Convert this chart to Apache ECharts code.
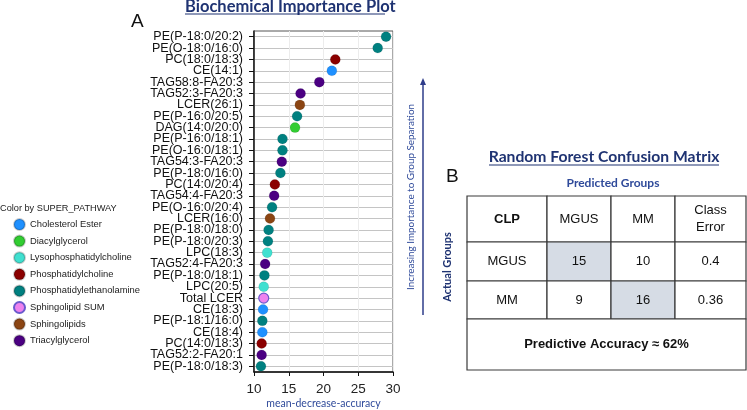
<!DOCTYPE html>
<html>
<head>
<meta charset="utf-8">
<script src="https://cdn.jsdelivr.net/npm/echarts@6/dist/echarts.min.js"></script>
<style>
  html, body { margin: 0; padding: 0; background: #fff; }
  #main { width: 747px; height: 410px; }
</style>
</head>
<body>
<div id="main"></div>
<script>
// variable importance, top to bottom
const lipids = [
  'PE(P-18:0/20:2)', 'PE(O-18:0/16:0)', 'PC(18:0/18:3)', 'CE(14:1)', 'TAG58:8-FA20:3',
  'TAG52:3-FA20:3', 'LCER(26:1)', 'PE(P-16:0/20:5)', 'DAG(14:0/20:0)', 'PE(P-16:0/18:1)',
  'PE(O-16:0/18:1)', 'TAG54:3-FA20:3', 'PE(P-18:0/16:0)', 'PC(14:0/20:4)', 'TAG54:4-FA20:3',
  'PE(O-16:0/20:4)', 'LCER(16:0)', 'PE(P-18:0/18:0)', 'PE(P-18:0/20:3)', 'LPC(18:3)',
  'TAG52:4-FA20:3', 'PE(P-18:0/18:1)', 'LPC(20:5)', 'Total LCER', 'CE(18:3)',
  'PE(P-18:1/16:0)', 'CE(18:4)', 'PC(14:0/18:3)', 'TAG52:2-FA20:1', 'PE(P-18:0/18:3)'
];
const meanDecreaseAccuracy = [
  29.0, 27.8, 21.7, 21.2, 19.4,
  16.7, 16.6, 16.2, 15.9, 14.1,
  14.1, 14.0, 13.8, 13.0, 12.9,
  12.6, 12.3, 12.1, 12.0, 11.9,
  11.6, 11.5, 11.4, 11.4, 11.3,
  11.2, 11.2, 11.1, 11.1, 11.0
];
const lipidPathway = [
  'Phosphatidylethanolamine', 'Phosphatidylethanolamine', 'Phosphatidylcholine', 'Cholesterol Ester', 'Triacylglycerol',
  'Triacylglycerol', 'Sphingolipids', 'Phosphatidylethanolamine', 'Diacylglycerol', 'Phosphatidylethanolamine',
  'Phosphatidylethanolamine', 'Triacylglycerol', 'Phosphatidylethanolamine', 'Phosphatidylcholine', 'Triacylglycerol',
  'Phosphatidylethanolamine', 'Sphingolipids', 'Phosphatidylethanolamine', 'Phosphatidylethanolamine', 'Lysophosphatidylcholine',
  'Triacylglycerol', 'Phosphatidylethanolamine', 'Lysophosphatidylcholine', 'Sphingolipid SUM', 'Cholesterol Ester',
  'Phosphatidylethanolamine', 'Cholesterol Ester', 'Phosphatidylcholine', 'Triacylglycerol', 'Phosphatidylethanolamine'
];
const pathways = [
  'Cholesterol Ester', 'Diacylglycerol', 'Lysophosphatidylcholine', 'Phosphatidylcholine',
  'Phosphatidylethanolamine', 'Sphingolipid SUM', 'Sphingolipids', 'Triacylglycerol'
];
const pathwayColors = ['#1e90ff', '#32cd32', '#40e0d0', '#8b0000', '#008080', '#ee82ee', '#8b4513', '#4b0082'];

// confusion matrix
const cmCorner = 'CLP';
const predictedGroups = ['MGUS', 'MM'];
const actualGroups = ['MGUS', 'MM'];
const cmCounts = [[15, 10], [9, 16]];
const classError = [0.4, 0.36];
const accuracyPct = 62;

const NAVY = '#1f3372';
const SANS = 'Liberation Sans, Arial, sans-serif';
const chart = echarts.init(document.getElementById('main'));

const dotSeries = pathways.map((p, k) => ({
  name: p,
  type: 'scatter',
  xAxisIndex: 0,
  yAxisIndex: 0,
  symbolSize: 10,
  itemStyle: {
    color: pathwayColors[k],
    borderColor: p === 'Sphingolipid SUM' ? '#6a5acd' : 'rgba(0,0,0,0.2)',
    borderWidth: p === 'Sphingolipid SUM' ? 1.2 : 0.5,
    opacity: 1
  },
  data: lipids
    .map((l, i) => (lipidPathway[i] === p ? [meanDecreaseAccuracy[i], l] : null))
    .filter(d => d)
}));

// table cells: col, row, colspan, text, bold, shaded
const cells = [];
cells.push([0, 0, 1, cmCorner, true, false]);
predictedGroups.forEach((g, j) => cells.push([j + 1, 0, 1, g, false, false]));
cells.push([3, 0, 1, 'Class\nError', false, false]);
actualGroups.forEach((g, i) => {
  cells.push([0, i + 1, 1, g, false, false]);
  cmCounts[i].forEach((v, j) => cells.push([j + 1, i + 1, 1, String(v), false, i === j]));
  cells.push([3, i + 1, 1, String(classError[i]), false, false]);
});
cells.push([0, 3, 4, 'Predictive Accuracy \u2248 ' + accuracyPct + '%', true, false]);

const colW = [80, 64, 64, 71];
const rowH = [46, 39, 38, 51];
const sum = a => a.reduce((s, v) => s + v, 0);

function renderCell(params, api) {
  const cs = params.coordSys;
  const c = cells[params.dataIndex];
  const kx = cs.width / sum(colW), ky = cs.height / sum(rowH);
  const x = cs.x + sum(colW.slice(0, c[0])) * kx;
  const y = cs.y + sum(rowH.slice(0, c[1])) * ky;
  const w = sum(colW.slice(c[0], c[0] + c[2])) * kx;
  const h = rowH[c[1]] * ky;
  return {
    type: 'group',
    children: [
      { type: 'rect', shape: { x, y, width: w, height: h },
        style: { fill: c[5] ? '#d6dce5' : '#fff', stroke: '#3a3a3a', lineWidth: 1.2 } },
      { type: 'text',
        style: { text: c[3], x: x + w / 2, y: y + h / 2, align: 'center', verticalAlign: 'middle',
          fontFamily: SANS, fontSize: 13, fontWeight: c[4] ? 'bold' : 'normal',
          lineHeight: 17, fill: '#111' } }
    ]
  };
}

const option = {
  animation: false,
  legend: {
    orient: 'vertical',
    left: 8,
    top: 213,
    itemWidth: 11,
    itemHeight: 11,
    itemGap: 3.6,
    icon: 'circle',
    data: pathways,
    textStyle: { fontFamily: SANS, fontSize: 9.4, color: '#222', lineHeight: 11 }
  },
  grid: [
    { left: 254, right: 354, top: 31, bottom: 38, show: true, borderColor: '#555', borderWidth: 1,
      containLabel: false, outerBoundsMode: 'none' },
    { left: 467, top: 196, width: 279, height: 174, containLabel: false, outerBoundsMode: 'none' }
  ],
  xAxis: [
    {
      type: 'value', gridIndex: 0, min: 10, max: 30, interval: 5,
      name: 'mean-decrease-accuracy', nameLocation: 'middle', nameGap: 26, nameMoveOverlap: false,
      nameTextStyle: { fontFamily: 'Lato', fontSize: 10.5, color: '#2f4a9a' },
      axisLine: { show: true, lineStyle: { color: '#111', width: 1.5 } },
      axisTick: { show: true, length: 4, lineStyle: { color: '#111' } },
      axisLabel: { fontFamily: SANS, fontSize: 13.5, color: '#222', margin: 10 },
      splitLine: { show: true, lineStyle: { color: '#ececec' } }
    },
    { type: 'value', gridIndex: 1, min: 0, max: 1, show: false }
  ],
  yAxis: [
    {
      type: 'category', gridIndex: 0, data: lipids, inverse: true,
      axisLine: { show: true, lineStyle: { color: '#111', width: 1.5 } },
      axisTick: { show: true, alignWithLabel: true, length: 5, lineStyle: { color: '#111' } },
      axisLabel: { interval: 0, fontFamily: SANS, fontSize: 12.5, color: '#111', margin: 11 },
      splitLine: { show: true, alignWithLabel: true, interval: 0, lineStyle: { color: '#c4c4c4' } }
    },
    { type: 'value', gridIndex: 1, min: 0, max: 1, show: false }
  ],
  graphic: [
    { type: 'text', left: 185, top: -2,
      style: { text: 'Biochemical Importance Plot', fontFamily: 'Lato', fontWeight: 'bold', fontSize: 16.5, fill: NAVY } },
    { type: 'line', shape: { x1: 185, y1: 14, x2: 385, y2: 14 }, style: { stroke: NAVY, lineWidth: 1.2 } },
    { type: 'text', left: 131, top: 12,
      style: { text: 'A', fontFamily: SANS, fontSize: 19, fill: '#111' } },
    { type: 'text', left: 0, top: 204,
      style: { text: 'Color by SUPER_PATHWAY', fontFamily: SANS, fontSize: 9.2, fill: '#222' } },
    // arrow
    { type: 'line', shape: { x1: 423, y1: 315, x2: 423, y2: 83 }, style: { stroke: '#2e3c8a', lineWidth: 1.5 } },
    { type: 'polygon', shape: { points: [[423, 78], [420, 85], [426, 85]] }, style: { fill: '#2e3c8a' } },
    { type: 'text', x: 411, y: 197, rotation: Math.PI / 2,
      style: { text: 'Increasing Importance to Group Separation', align: 'center', verticalAlign: 'middle',
        fontFamily: 'Lato', fontSize: 9.9, fill: '#2f4a9a' } },
    { type: 'text', x: 447, y: 267, rotation: Math.PI / 2,
      style: { text: 'Actual Groups', align: 'center', verticalAlign: 'middle',
        fontFamily: 'Lato', fontWeight: 'bold', fontSize: 11, fill: NAVY } },
    { type: 'text', left: 446, top: 167,
      style: { text: 'B', fontFamily: SANS, fontSize: 19, fill: '#111' } },
    { type: 'text', x: 604, y: 157,
      style: { text: 'Random Forest Confusion Matrix', align: 'center', verticalAlign: 'middle',
        fontFamily: 'Lato', fontWeight: 'bold', fontSize: 15.7, fill: NAVY } },
    { type: 'line', shape: { x1: 489, y1: 165, x2: 719, y2: 165 }, style: { stroke: NAVY, lineWidth: 1.2 } },
    { type: 'text', x: 613, y: 183,
      style: { text: 'Predicted Groups', align: 'center', verticalAlign: 'middle',
        fontFamily: 'Lato', fontWeight: 'bold', fontSize: 12, fill: '#2f4a9a' } }
  ],
  series: dotSeries.concat([{
    type: 'custom',
    xAxisIndex: 1,
    yAxisIndex: 1,
    renderItem: renderCell,
    data: cells.map(c => [c[0], c[1]]),
    silent: true
  }])
};

chart.setOption(option);
</script>
</body>
</html>
